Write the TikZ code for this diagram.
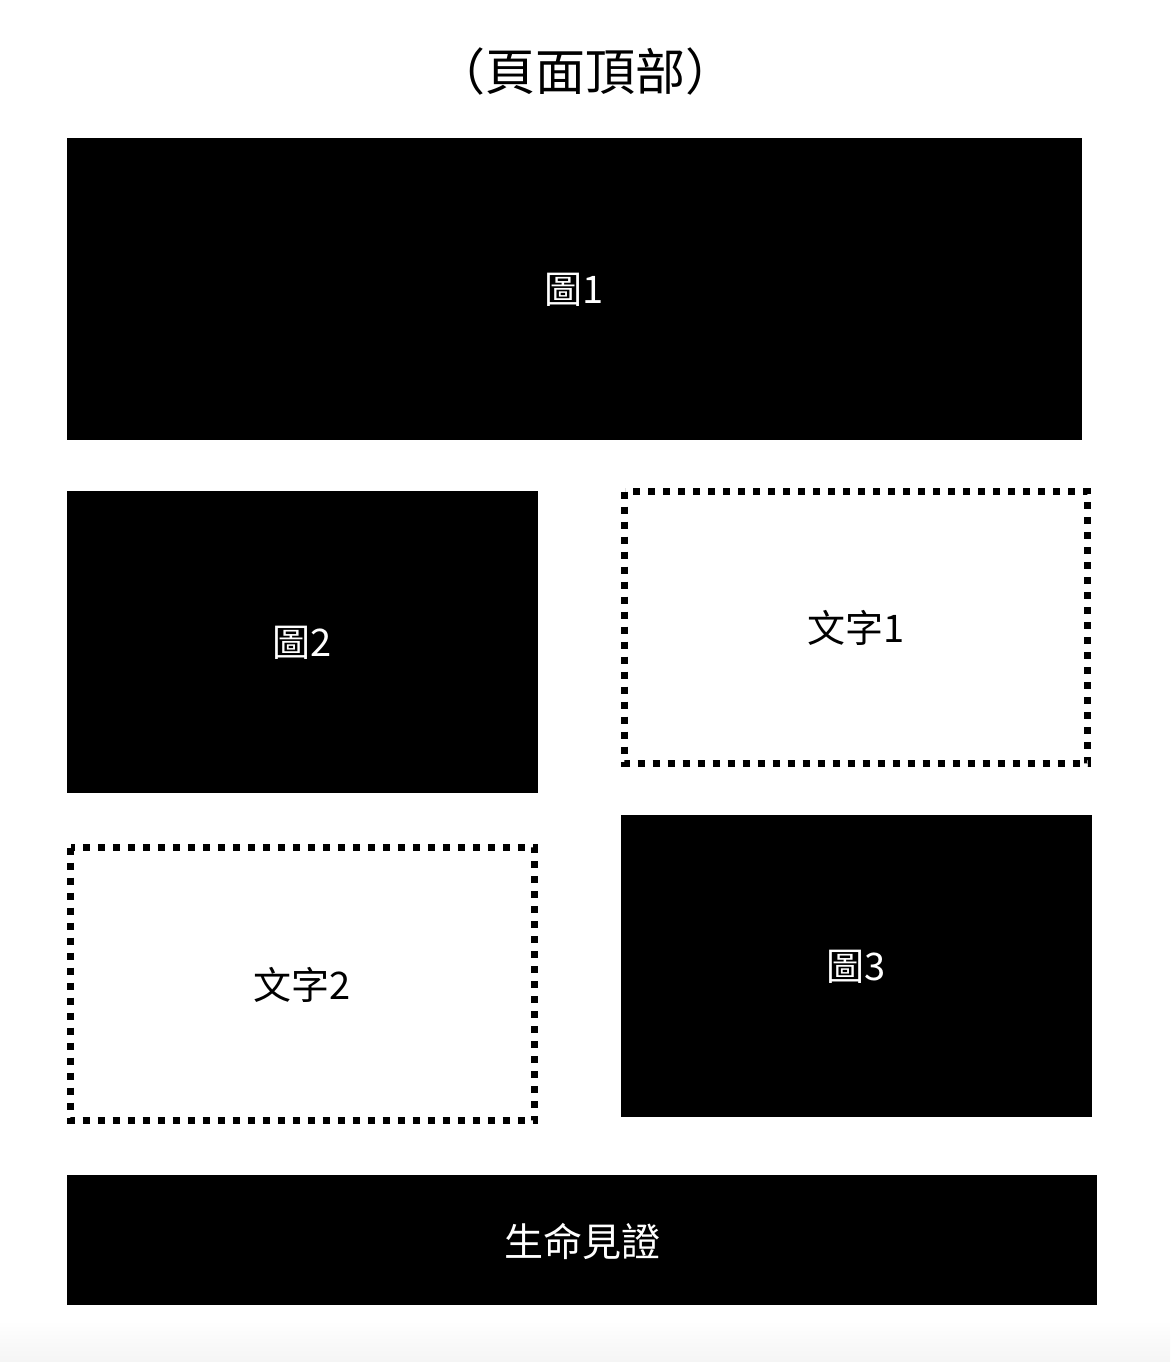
\documentclass[tikz,border=0pt]{standalone}
\usepackage{fontspec}
\setmainfont{Noto Sans CJK TC}
\newfontfamily\cjk{Noto Sans CJK TC}
\begin{document}
\begin{tikzpicture}[x=1pt,y=-1pt,
  lbl/.style={inner sep=0pt, font=\cjk\fontsize{38}{42}\selectfont},
  whitelbl/.style={lbl, text=white},
  dotline/.style={line width=7pt, dash pattern=on 7pt off 8pt}]
\useasboundingbox (0,0) rectangle (1170,1362);
\fill[white] (0,0) rectangle (1170,1362);
\shade[top color=white, bottom color=black!4] (0,1320) rectangle (1170,1362);
\node[font=\cjk\fontsize{50}{56}\selectfont] (title) at (585,72) {（頁面頂部）};
\fill[black] (67,138) rectangle (1082,440);
\node[whitelbl] (fig1) at (574.5,290) {圖1};
\fill[black] (67,491) rectangle (538,793);
\node[whitelbl] (fig2) at (302.5,643) {圖2};
\draw[dotline] (624.5,491.5) rectangle (1087.5,763.5);
\node[lbl] (txt1) at (856,628) {文字1};
\draw[dotline] (70.5,847.5) rectangle (534.5,1120.5);
\node[lbl] (txt2) at (302.5,985) {文字2};
\fill[black] (621,815) rectangle (1092,1117);
\node[whitelbl] (fig3) at (856.5,967) {圖3};
\fill[black] (67,1175) rectangle (1097,1305);
\node[whitelbl, font=\cjk\fontsize{39}{43}\selectfont] (foot) at (582,1241) {生命見證};
\end{tikzpicture}
\end{document}
